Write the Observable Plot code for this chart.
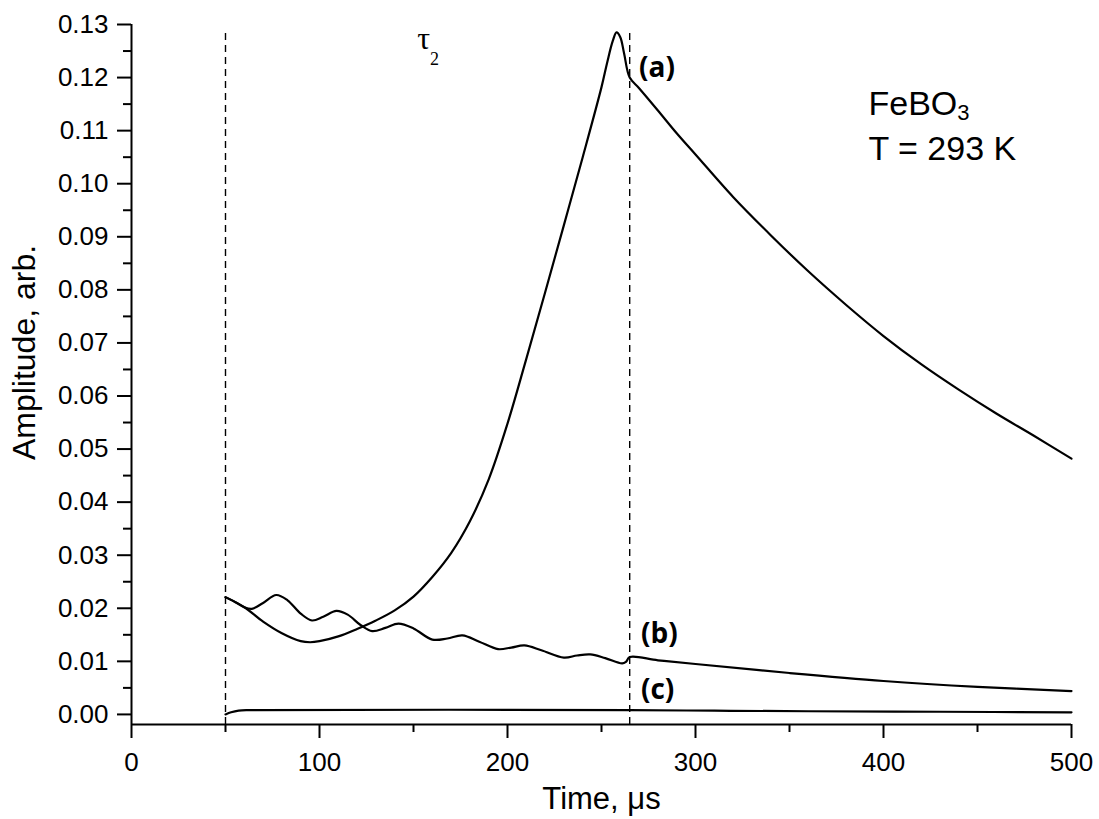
<!DOCTYPE html>
<html>
<head>
<meta charset="utf-8">
<script src="https://cdn.jsdelivr.net/npm/d3@7"></script>
<script src="https://cdn.jsdelivr.net/npm/@observablehq/plot@0.6"></script>
<style>
  html, body { margin: 0; padding: 0; background: #fff; overflow: hidden; }
</style>
</head>
<body>
<div id="chart"></div>
<script>
// ---- Data ----
const timeA = [50, 60, 70, 80, 90, 95, 100, 110, 120, 130, 140, 150, 160, 170, 180, 190, 200, 210, 220, 230, 240, 250, 253, 256, 258, 260, 262, 265, 270, 280, 290, 300, 320, 340, 360, 380, 400, 420, 440, 460, 480, 500];
const ampA  = [0.0221, 0.0202, 0.0175, 0.0153, 0.0138, 0.0136, 0.0138, 0.0147, 0.0161, 0.0177, 0.0196, 0.0222, 0.0259, 0.0304, 0.0364, 0.0443, 0.0548, 0.0670, 0.0795, 0.0922, 0.1050, 0.1182, 0.1228, 0.1269, 0.1285, 0.1276, 0.1246, 0.1200, 0.1180, 0.1138, 0.1095, 0.1055, 0.0975, 0.0903, 0.0835, 0.0772, 0.0713, 0.0660, 0.0612, 0.0567, 0.0525, 0.0482];

const timeB = [50, 55, 60, 64, 70, 77, 83, 90, 96, 102, 109, 115, 122, 128, 135, 142, 150, 160, 168, 176, 185, 195, 202, 209, 218, 230, 237, 244, 252, 261, 263, 265, 280, 300, 350, 400, 450, 500];
const ampB  = [0.0221, 0.0212, 0.0202, 0.0199, 0.0210, 0.0225, 0.0215, 0.0190, 0.0177, 0.0184, 0.0195, 0.0188, 0.0168, 0.0157, 0.0163, 0.0171, 0.0162, 0.0141, 0.0143, 0.0149, 0.0137, 0.0123, 0.0126, 0.0130, 0.0121, 0.0107, 0.0111, 0.0113, 0.0106, 0.0096, 0.0099, 0.0108, 0.0102, 0.0095, 0.0078, 0.0063, 0.0052, 0.0044];

const timeC = [50, 53, 57, 62, 265, 310, 360, 430, 500];
const ampC  = [0.0000, 0.0004, 0.0007, 0.0008, 0.0008, 0.0007, 0.0006, 0.0005, 0.0004];

const markerTimes = [50, 265];

const yTicks = [0.00, 0.01, 0.02, 0.03, 0.04, 0.05, 0.06, 0.07, 0.08, 0.09, 0.10, 0.11, 0.12, 0.13];
const yMinorTicks = [0.005, 0.015, 0.025, 0.035, 0.045, 0.055, 0.065, 0.075, 0.085, 0.095, 0.105, 0.115, 0.125];
const xTicks = [0, 100, 200, 300, 400, 500];
const xMinorTicks = [50, 150, 250, 350, 450];

const curveLabels = ["(a)", "(b)", "(c)"];
const curveLabelT = [270, 271, 271];
const curveLabelV = [0.1218, 0.0152, 0.0046];

const annotTexts = ["FeBO3", "T = 293 K"];
const annotT = [392, 392];
const annotV = [0.1130, 0.1045];

const tauText = "τ2";
const tauT = 152, tauV = 0.1253;

const xTitle = "Time, μs";
const yTitle = "Amplitude, arb.";

const yMin = -0.0019, yMax = 0.13;

// ---- Build tables ----
const toRows = (series, t, v) => t.map((x, i) => ({series, t: x, v: v[i]}));
const lines = [...toRows("a", timeA, ampA), ...toRows("b", timeB, ampB), ...toRows("c", timeC, ampC)];
const labelRows = curveLabels.map((l, i) => ({label: l, t: curveLabelT[i], v: curveLabelV[i]}));
const annotRows = annotTexts.map((l, i) => ({label: l, t: annotT[i], v: annotV[i]}));

const sans = "'Liberation Sans', Arial, Helvetica, sans-serif";

const plot = Plot.plot({
  width: 1099,
  height: 819,
  marginLeft: 131,
  marginRight: 28,
  marginTop: 24,
  marginBottom: 95,
  style: {fontFamily: sans, fontSize: "26px", background: "#fff", color: "#000", overflow: "visible"},
  x: {domain: [0, 500]},
  y: {domain: [yMin, yMax]},
  marks: [
    Plot.ruleX(markerTimes, {y1: yMin, y2: 0.129, stroke: "#000", strokeWidth: 1.4, strokeDasharray: "7,5"}),
    Plot.line(lines, {x: "t", y: "v", z: "series", curve: "catmull-rom", stroke: "#000", strokeWidth: 2.2}),
    Plot.axisY(yTicks, {tickSize: 14, tickPadding: 9, tickFormat: d3.format(".2f"), strokeWidth: 2, label: null, fontSize: 26}),
    Plot.axisY(yMinorTicks, {tickSize: 8, tickFormat: () => "", strokeWidth: 2, label: null}),
    Plot.axisX(xTicks, {tickSize: 14, tickPadding: 14, tickFormat: d3.format("d"), strokeWidth: 2, label: null, fontSize: 26}),
    Plot.axisX(xMinorTicks, {tickSize: 8, tickFormat: () => "", strokeWidth: 2, label: null}),
    Plot.ruleX([0], {stroke: "#000", strokeWidth: 2}),
    Plot.ruleY([yMin], {stroke: "#000", strokeWidth: 2}),
    Plot.text(labelRows, {x: "t", y: "v", text: "label", textAnchor: "start", lineAnchor: "middle",
      fontFamily: "'Open Sans', 'DejaVu Sans', sans-serif", fontWeight: "bold", fontSize: 28, fill: "#000"}),
    Plot.text(annotRows, {x: "t", y: "v", text: "label", textAnchor: "start", lineAnchor: "bottom",
      fontFamily: sans, fontSize: 34, fill: "#000"}),
    Plot.text([{label: tauText, t: tauT, v: tauV}], {x: "t", y: "v", text: "label", textAnchor: "start", lineAnchor: "bottom",
      fontFamily: "'Liberation Serif', 'DejaVu Serif', serif", fontSize: 32, fill: "#000"}),
    Plot.text([{label: xTitle, t: 250}], {x: "t", text: "label", frameAnchor: "bottom", dy: 75, lineAnchor: "middle", textAnchor: "middle",
      fontFamily: sans, fontSize: 31, fill: "#000"}),
    Plot.text([{label: yTitle, v: 0.0682}], {y: "v", text: "label", frameAnchor: "left", dx: -107, rotate: -90, lineAnchor: "middle", textAnchor: "middle",
      fontFamily: sans, fontSize: 32, fill: "#000"})
  ]
});

// Subscripts as real text (tspans)
const subscripts = {
  "FeBO3": {base: "FeBO", sub: "3", size: 22, dy: 5},
  "τ2": {base: "τ", sub: "2", size: 18, dy: 16}
};
d3.select(plot).selectAll("text").each(function () {
  const s = this.textContent;
  const spec = subscripts[s];
  if (!spec) return;
  const el = d3.select(this);
  el.text(spec.base);
  el.append("tspan").attr("font-size", spec.size).attr("dy", spec.dy).text(spec.sub);
});

document.getElementById("chart").appendChild(plot);
</script>
</body>
</html>
